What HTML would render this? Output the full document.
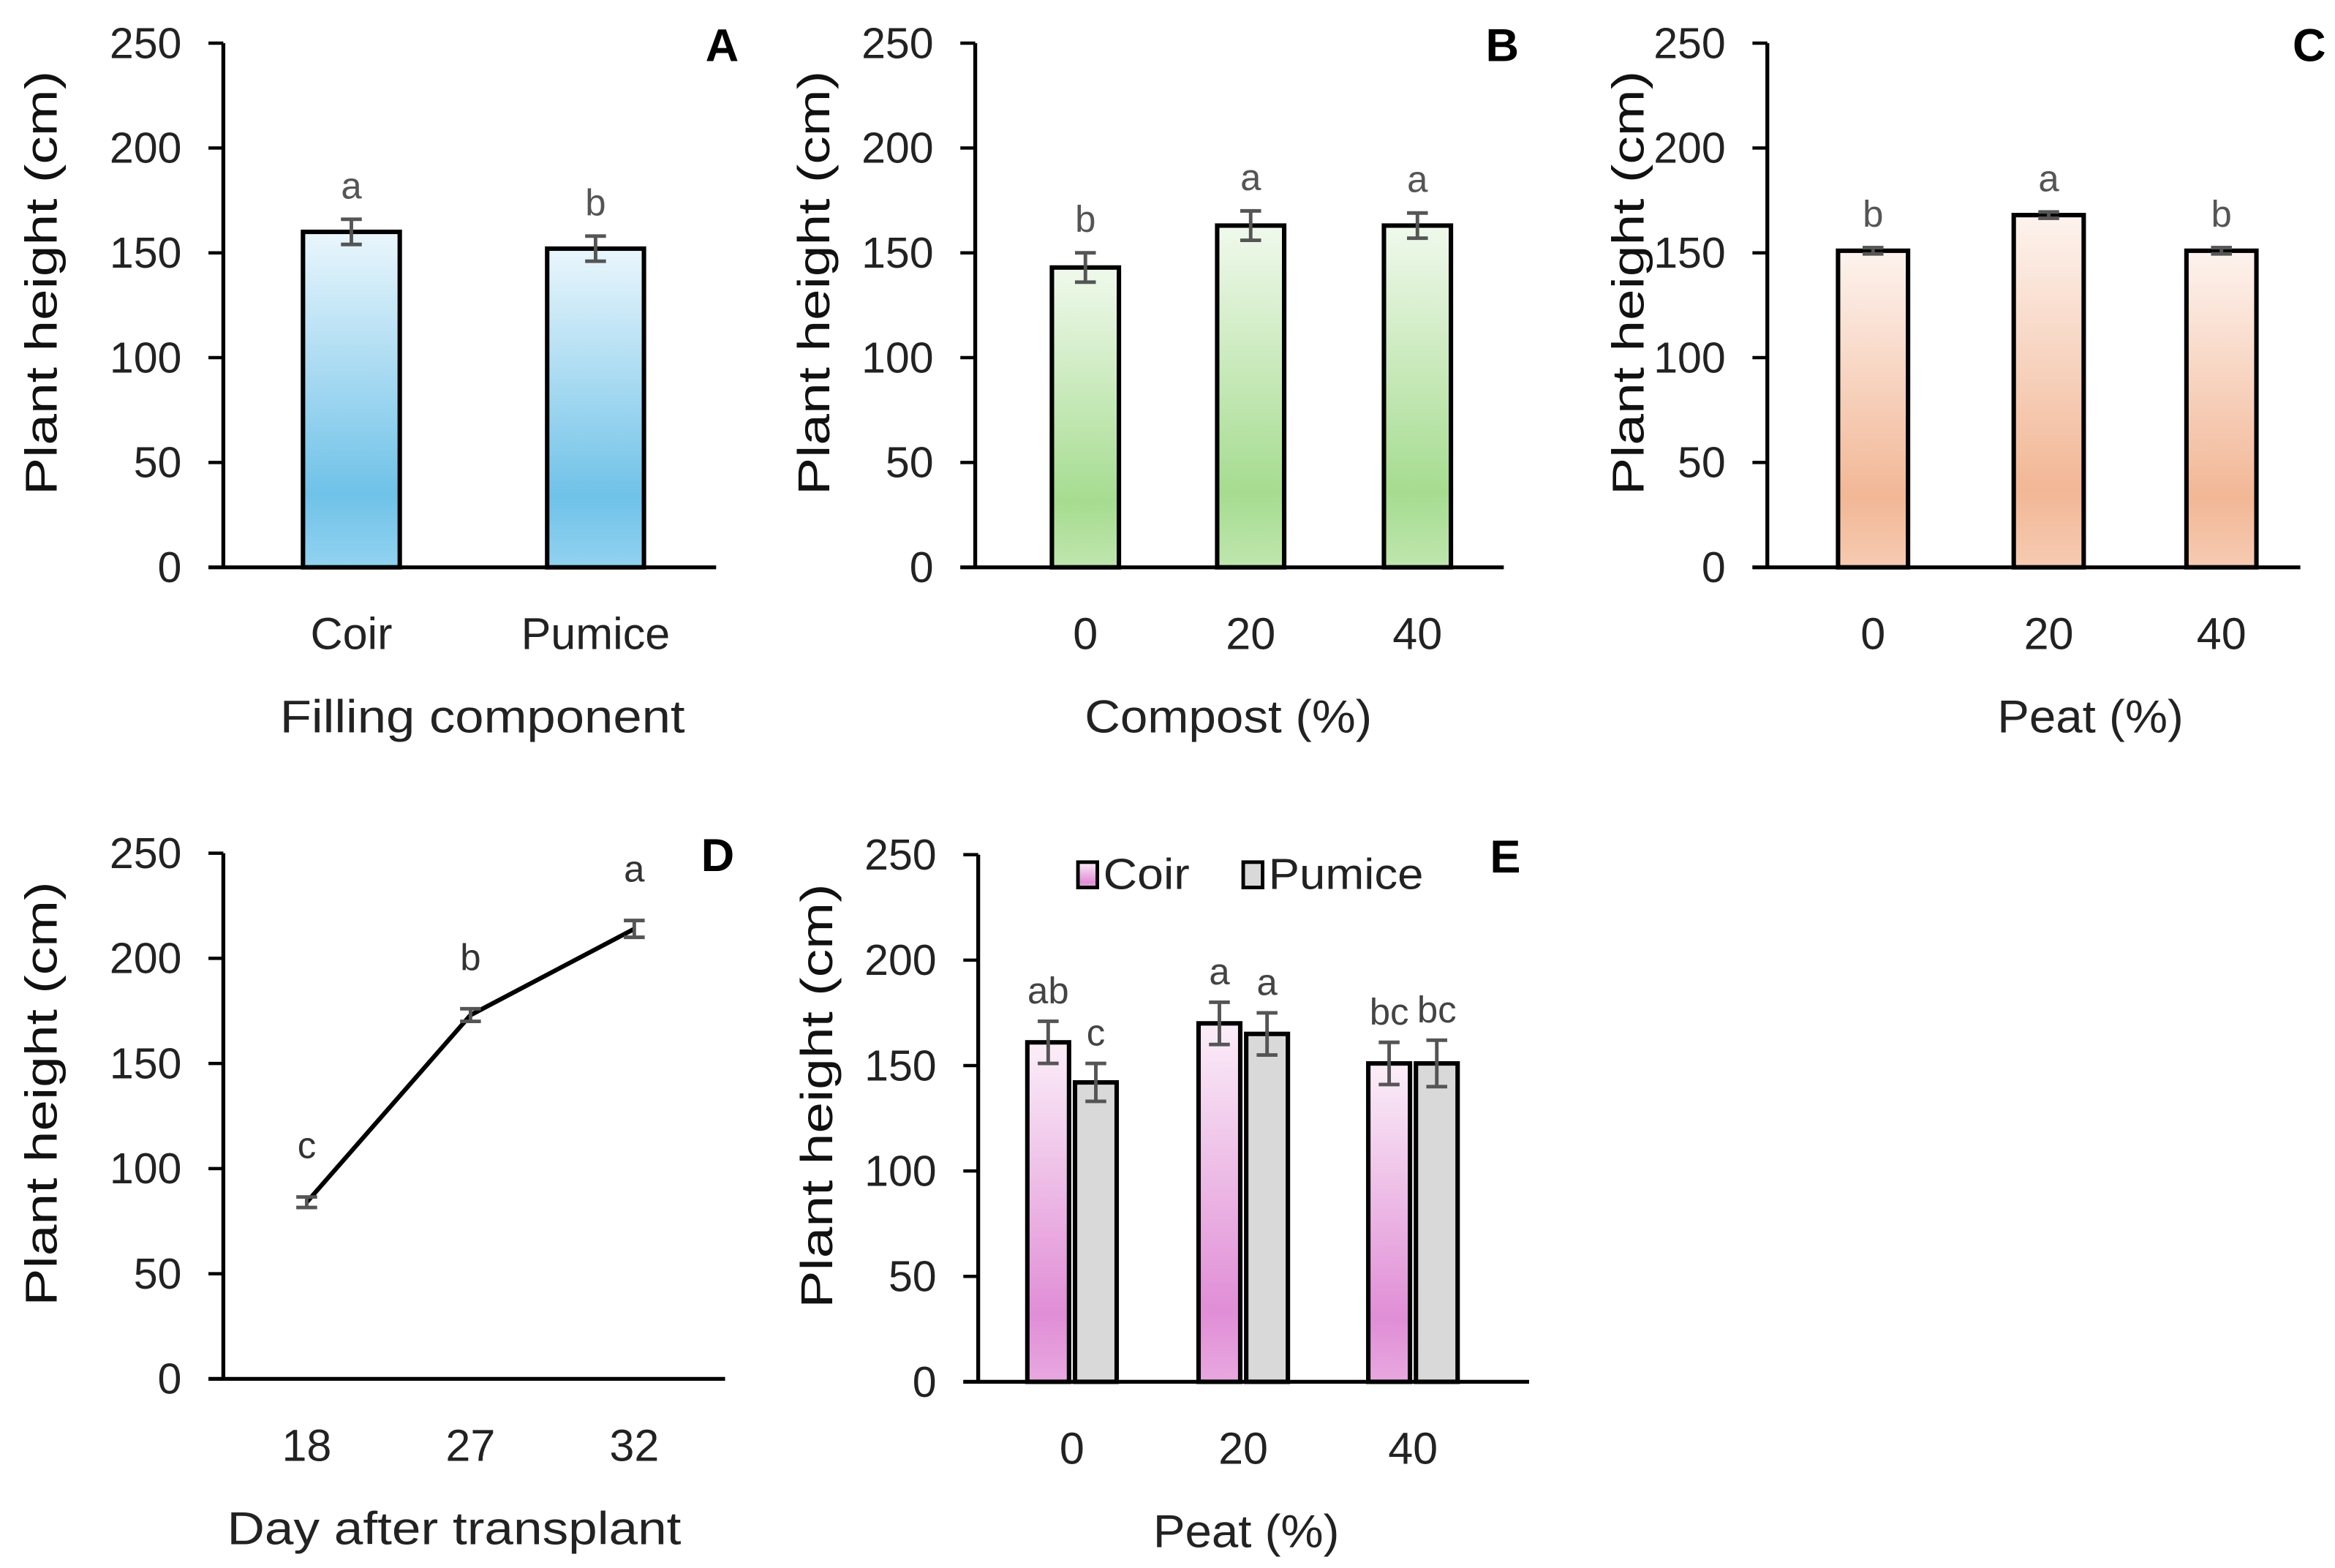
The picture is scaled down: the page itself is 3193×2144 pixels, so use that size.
<!DOCTYPE html>
<html><head><meta charset="utf-8"><style>
html,body{margin:0;padding:0;background:#fff;}
svg{display:block;}
text{font-family:"Liberation Sans",sans-serif;}
</style></head><body>
<svg id="fig" width="3193" height="2144" viewBox="0 0 3193 2144" xmlns="http://www.w3.org/2000/svg">
<defs>
<linearGradient id="gBlue" x1="0" y1="0" x2="0" y2="1"><stop offset="0" stop-color="#eaf6fc"/><stop offset="0.78" stop-color="#6fc2e8"/><stop offset="1" stop-color="#92d2f0"/></linearGradient>
<linearGradient id="gGreen" x1="0" y1="0" x2="0" y2="1"><stop offset="0" stop-color="#f0f9ec"/><stop offset="0.78" stop-color="#a6dc90"/><stop offset="1" stop-color="#bfe6ae"/></linearGradient>
<linearGradient id="gOrange" x1="0" y1="0" x2="0" y2="1"><stop offset="0" stop-color="#fdf3ee"/><stop offset="0.78" stop-color="#f2b796"/><stop offset="1" stop-color="#f6cbb2"/></linearGradient>
<linearGradient id="gPink" x1="0" y1="0" x2="0" y2="1"><stop offset="0" stop-color="#fbeef8"/><stop offset="0.8" stop-color="#e08ed6"/><stop offset="1" stop-color="#e8a8e0"/></linearGradient>
</defs>
<g id="root" transform="scale(2.036)"></g>
</svg>
<script>
// ---- data ----
const ticks = [0, 50, 100, 150, 200, 250];
const catsA = ["Coir", "Pumice"];
const valsA = [160, 152];
const errA = [6, 6];
const letA = ["a", "b"];
const catsB = ["0", "20", "40"];
const valsB = [143, 163, 163];
const errB = [7, 7, 6];
const letB = ["b", "a", "a"];
const catsC = ["0", "20", "40"];
const valsC = [151, 168, 151];
const errC = [1.5, 1.5, 1.5];
const letC = ["b", "a", "b"];
const catsD = ["18", "27", "32"];
const valsD = [84, 173, 214];
const errD = [2.5, 3, 4];
const letD = ["c", "b", "a"];
const catsE = ["0", "20", "40"];
const coirE = [161, 170, 151];
const coirErrE = [10, 10, 10];
const coirLetE = ["ab", "a", "bc"];
const pumE = [142, 165, 151];
const pumErrE = [9, 10, 11];
const pumLetE = ["c", "a", "bc"];

const NS = "http://www.w3.org/2000/svg";
const root = document.getElementById("root");
function mk(tag, attrs, parent, txt) {
  const e = document.createElementNS(NS, tag);
  for (const k in attrs) e.setAttribute(k, attrs[k]);
  if (txt !== undefined) e.textContent = txt;
  (parent || root).appendChild(e);
  return e;
}

function panel(o) {
  const g = mk("g", {});
  
  
  const y = v => o.y0 - (v / 250) * (o.y0 - o.yTop);
  const ya = mk("line", {x1: o.ax, y1: o.yTop, x2: o.ax, y2: o.y0, stroke: "#000", "stroke-width": 2.6}, g);
  
  
  const xa = mk("line", {x1: o.ax - 10, y1: o.y0, x2: o.axEnd, y2: o.y0, stroke: "#000", "stroke-width": 2.6}, g);
  
  
  ticks.forEach(t => {
    const tl = mk("line", {x1: o.ax - 10, y1: y(t), x2: o.ax, y2: y(t), stroke: "#000", "stroke-width": 2.2}, g);
    
    
    const tx = mk("text", {x: o.ax - 28, y: y(t) + 10, "text-anchor": "end", "font-size": 29, fill: "#222"}, g, String(t));
    
    
  });
  const yt = mk("text", {x: 0, y: 0, transform: `translate(${o.titleX},${(o.yTop + o.y0) / 2 - 15}) rotate(-90)`, "text-anchor": "middle", "font-size": 30, fill: "#111", textLength: 285, lengthAdjust: "spacingAndGlyphs"}, g, "Plant height (cm)");
  
  
  const pl = mk("text", {x: o.letterX, y: o.yTop + 12, "text-anchor": "middle", "font-size": 31, "font-weight": "bold", fill: "#000"}, g, o.letter);
  
  
  o.cats.forEach((c, i) => {
    const cl = mk("text", {x: o.cx[i], y: o.y0 + 55, "text-anchor": "middle", "font-size": 30, fill: "#222"}, g, c);
    
    
  });
  const xt = mk("text", {x: o.xTitleX, y: o.y0 + 111, "text-anchor": "middle", "font-size": 31, fill: "#222", textLength: o.xLen, lengthAdjust: "spacingAndGlyphs"}, g, o.xTitle);
  
  
  return {g, y};
}

function errbar(g, x, yv, ye, y, hw) {
  const a = y(yv + ye), b = y(yv - ye);
  const e = mk("path", {d: `M${x},${a}V${b}M${x - hw},${a}H${x + hw}M${x - hw},${b}H${x + hw}`, stroke: "#555", "stroke-width": 2.4, fill: "none"}, g);
  
  
}

function barPanel(o, vals, errs, lets, fill, bw) {
  const {g, y} = panel(o);
  vals.forEach((v, i) => {
    const r = mk("rect", {x: o.cx[i] - bw / 2, y: y(v), width: bw, height: o.y0 - y(v), fill: fill, stroke: "#000", "stroke-width": 3}, g);
    
    
    errbar(g, o.cx[i], v, errs[i], y, 7);
    const t = mk("text", {x: o.cx[i], y: y(v + errs[i]) - 14, "text-anchor": "middle", "font-size": 25, fill: "#555"}, g, lets[i]);
    
    
  });
}

barPanel({name: "panel-a", ax: 150, axEnd: 481, yTop: 29, y0: 381, titleX: 38, letter: "A", letterX: 485, cats: catsA, cx: [236, 400], xTitle: "Filling component", xTitleX: 324, xLen: 272}, valsA, errA, letA, "url(#gBlue)", 65);
barPanel({name: "panel-b", ax: 655, axEnd: 1010, yTop: 29, y0: 381, titleX: 557, letter: "B", letterX: 1009, cats: catsB, cx: [729, 840, 952], xTitle: "Compost (%)", xTitleX: 825, xLen: 193}, valsB, errB, letB, "url(#gGreen)", 45);
barPanel({name: "panel-c", ax: 1187, axEnd: 1545, yTop: 29, y0: 381, titleX: 1104, letter: "C", letterX: 1551, cats: catsC, cx: [1258, 1376, 1492], xTitle: "Peat (%)", xTitleX: 1404, xLen: 125}, valsC, errC, letC, "url(#gOrange)", 47);

(function(){
  const o = {name: "panel-d", ax: 150, axEnd: 487, yTop: 573, y0: 926, titleX: 38, letter: "D", letterX: 482, cats: catsD, cx: [206, 316, 426], xTitle: "Day after transplant", xTitleX: 305, xLen: 305};
  const {g, y} = panel(o);
  const pts = valsD.map((v, i) => o.cx[i] + "," + y(v)).join(" ");
  const ln = mk("polyline", {points: pts, fill: "none", stroke: "#000", "stroke-width": 3}, g);
  
  
  valsD.forEach((v, i) => {
    errbar(g, o.cx[i], v, errD[i], y, 7);
    const t = mk("text", {x: o.cx[i], y: y(v + errD[i]) - 26, "text-anchor": "middle", "font-size": 25, fill: "#333"}, g, letD[i]);
    
    
  });
})();

(function(){
  const o = {name: "panel-e", ax: 657, axEnd: 1027, yTop: 574, y0: 928, titleX: 559, letter: "E", letterX: 1011, cats: catsE, cx: [720, 835, 949], xTitle: "Peat (%)", xTitleX: 837, xLen: 125};
  const {g, y} = panel(o);
  const bw = 28, off = 16;
  [[coirE, coirErrE, coirLetE, "url(#gPink)", -off, "coir"], [pumE, pumErrE, pumLetE, "#d9d9d9", off, "pumice"]].forEach(s => {
    s[0].forEach((v, i) => {
      const x = o.cx[i] + s[4];
      const r = mk("rect", {x: x - bw / 2, y: y(v), width: bw, height: o.y0 - y(v), fill: s[3], stroke: "#000", "stroke-width": 3}, g);
      
      
      errbar(g, x, v, s[1][i], y, 7);
      const t = mk("text", {x: x, y: y(v + s[1][i]) - 12, "text-anchor": "middle", "font-size": 25, fill: "#444"}, g, s[2][i]);
      
      
    });
  });
  const lg = mk("g", {}, g);
  
  
  const b1 = mk("rect", {x: 724, y: 579, width: 13, height: 17, fill: "url(#gPink)", stroke: "#000", "stroke-width": 2.4}, lg);
  
  
  const t1 = mk("text", {x: 741, y: 597, "font-size": 29, fill: "#222", textLength: 58, lengthAdjust: "spacingAndGlyphs"}, lg, "Coir");
  
  
  const b2 = mk("rect", {x: 835, y: 579, width: 13, height: 17, fill: "#d9d9d9", stroke: "#000", "stroke-width": 2.4}, lg);
  
  
  const t2 = mk("text", {x: 852, y: 597, "font-size": 29, fill: "#222", textLength: 104, lengthAdjust: "spacingAndGlyphs"}, lg, "Pumice");
  
  
})();
</script>
</body></html>
